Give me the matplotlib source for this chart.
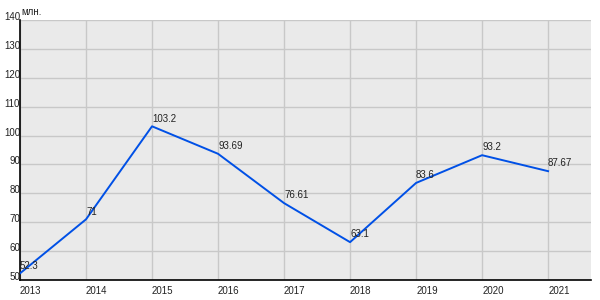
import matplotlib
matplotlib.use('Agg')
import matplotlib.pyplot as plt

# data
years = [2013, 2014, 2015, 2016, 2017, 2018, 2019, 2020, 2021]
values = [52.3, 71, 103.2, 93.69, 76.61, 63.1, 83.6, 93.2, 87.67]
labels = ['52.3', '71', '103.2', '93.69', '76.61', '63.1', '83.6', '93.2', '87.67']
yticks = [50, 60, 70, 80, 90, 100, 110, 120, 130, 140]

plt.rcParams['font.family'] = ['Liberation Sans', 'DejaVu Sans']

fig = plt.figure(figsize=(6, 3), dpi=100)
ax = fig.add_axes([20/600, 20/300, 571/600, 260/300])
ax.set_facecolor('#EAEAEA')

ax.plot(years, values, color='#0050E6', lw=1.4, zorder=3)
for x, y, s in zip(years, values, labels):
    ax.annotate(s, (x, y), xytext=(0, 2), textcoords='offset points',
                ha='left', va='bottom', fontsize=7, color='#222222', zorder=4)

ax.set_xlim(2013, 2021.65)
ax.set_ylim(50, 140)
ax.set_xticks(years)
ax.set_yticks(yticks)
ax.set_xticklabels([str(y) for y in years], ha='left')
ax.set_yticklabels([str(v) for v in yticks], va='baseline')
ax.tick_params(length=0, labelsize=7, colors='#222222')
ax.tick_params(axis='y', pad=0)
ax.tick_params(axis='x', pad=4)
ax.grid(True, color='#C8C8C8', lw=1)
ax.set_axisbelow(True)

for side in ['top', 'right']:
    ax.spines[side].set_visible(False)
ax.spines['left'].set_color('black')
ax.spines['bottom'].set_color('black')
ax.spines['left'].set_linewidth(1.2)
ax.spines['bottom'].set_linewidth(1.2)

fig.text(21/600, 1 - 12/300, 'млн.', fontsize=7, ha='left', va='center', color='#222222')

plt.savefig('out.png', dpi=100)
